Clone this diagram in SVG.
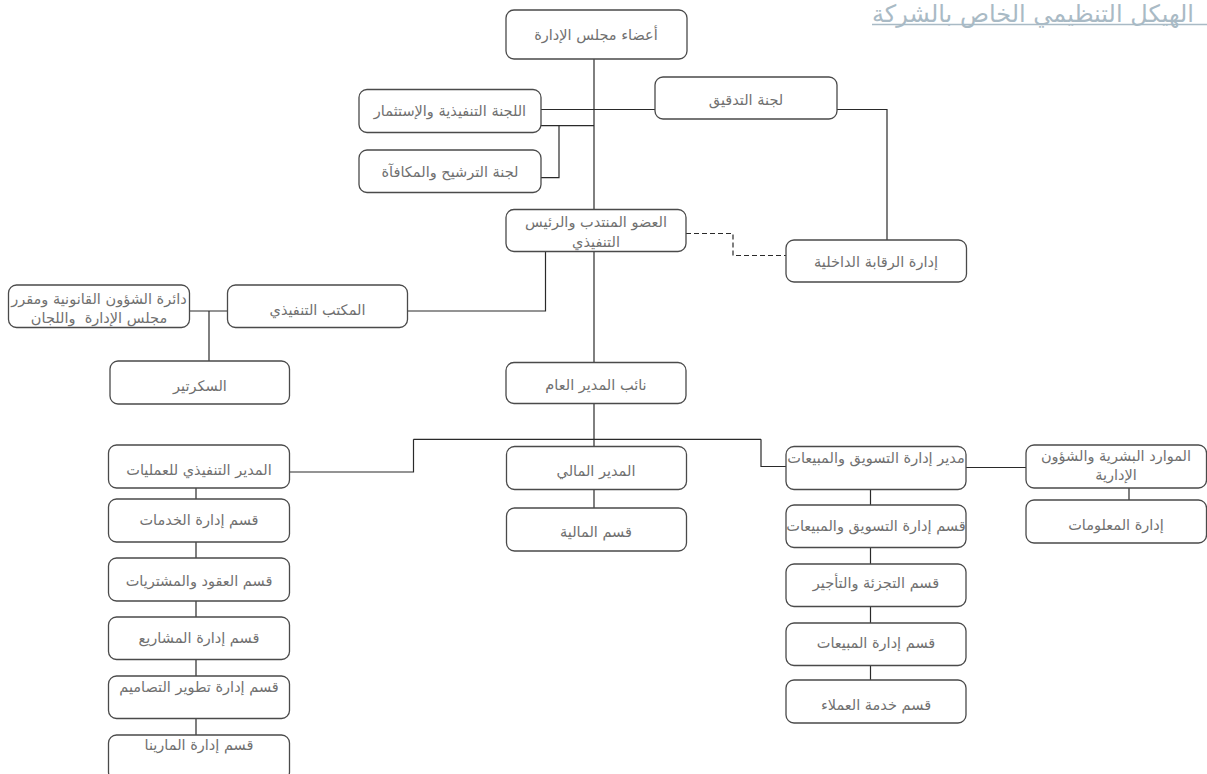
<svg xmlns="http://www.w3.org/2000/svg" width="1207" height="774" viewBox="0 0 1207 774">
<style>
.box{fill:#ffffff;stroke:#4a4a4a;stroke-width:1.3}
.t{font-family:"DejaVu Sans",sans-serif;font-size:14.5px;fill:#707070;text-anchor:middle;direction:rtl;dominant-baseline:central}
.c{fill:none;stroke:#2a2a2a;stroke-width:1.2}
.d{fill:none;stroke:#2a2a2a;stroke-width:1.2;stroke-dasharray:5,3}
.title{font-family:"DejaVu Sans",sans-serif;font-size:24px;fill:#a9bac5;direction:rtl;text-anchor:end}
</style>
<rect width="1207" height="774" fill="#ffffff"/>
<g id="title">
<text class="title" x="872" y="22">الهيكل التنظيمي الخاص بالشركة</text>
<line x1="872" y1="24.5" x2="1207" y2="24.5" stroke="#a9bac5" stroke-width="1.3"/>
</g>
<g id="connectors">
<path class="c" d="M594 59 V209.5"/>
<path class="c" d="M541 109.5 H655"/>
<path class="c" d="M541 125.7 H594"/>
<path class="c" d="M559 125.7 V177.7 H541"/>
<path class="c" d="M837 109.5 H887 V240"/>
<path class="d" d="M686 233.5 H733 V255.5 H786"/>
<path class="c" d="M545.5 251.5 V311 H407.5"/>
<path class="c" d="M227.5 311 H189.5"/>
<path class="c" d="M209 311 V361"/>
<path class="c" d="M594 251.5 V362.5"/>
<path class="c" d="M594 403.5 V446.5"/>
<path class="c" d="M413.5 439.3 H761"/>
<path class="c" d="M413.5 439.3 V472 H289.5"/>
<path class="c" d="M761 439.3 V466.5 H786"/>
<path class="c" d="M966 467.5 H1026"/>
<path class="c" d="M1129 488 V500"/>
<path class="c" d="M196 488 V499 M196 542 V558 M196 601 V617 M196 659.5 V676 M196 718.5 V735"/>
<path class="c" d="M594 489.5 V508"/>
<path class="c" d="M870.5 489.5 V505 M870.5 547.5 V564 M870.5 606.5 V623 M870.5 665.5 V680"/>
</g>
<g id="board"><rect class="box" x="506" y="10" width="181" height="49" rx="8"/><text class="t" x="596" y="35">أعضاء مجلس الإدارة</text></g>
<g id="audit-committee"><rect class="box" x="655" y="77" width="182" height="42" rx="8"/><text class="t" x="746" y="100">لجنة التدقيق</text></g>
<g id="exec-committee"><rect class="box" x="359" y="89.5" width="182" height="43" rx="8"/><text class="t" x="450" y="111">اللجنة التنفيذية والإستثمار</text></g>
<g id="nomination"><rect class="box" x="359" y="150" width="182" height="42.5" rx="8"/><text class="t" x="450" y="171.5">لجنة الترشيح والمكافآة</text></g>
<g id="ceo"><rect class="box" x="506" y="209.5" width="180" height="42" rx="8"/><text class="t" x="596" y="222">العضو المنتدب والرئيس</text><text class="t" x="596" y="241.5">التنفيذي</text></g>
<g id="internal-audit"><rect class="box" x="786" y="240" width="180.5" height="42" rx="8"/><text class="t" x="876" y="262">إدارة الرقابة الداخلية</text></g>
<g id="exec-office"><rect class="box" x="227.5" y="285" width="180" height="42.5" rx="8"/><text class="t" x="317.5" y="310">المكتب التنفيذي</text></g>
<g id="legal"><rect class="box" x="8.5" y="285" width="181" height="42.5" rx="8"/><text class="t" x="99" y="299">دائرة الشؤون القانونية ومقرر</text><text class="t" x="99" y="318" xml:space="preserve">مجلس الإدارة  واللجان</text></g>
<g id="secretary"><rect class="box" x="110" y="361" width="179.5" height="43" rx="8"/><text class="t" x="200" y="386">السكرتير</text></g>
<g id="deputy-gm"><rect class="box" x="506" y="362.5" width="180" height="41" rx="8"/><text class="t" x="596" y="385">نائب المدير العام</text></g>
<g id="coo"><rect class="box" x="108.5" y="445" width="181" height="43" rx="8"/><text class="t" x="199" y="470">المدير التنفيذي للعمليات</text></g>
<g id="services"><rect class="box" x="108.5" y="499" width="181" height="43" rx="8"/><text class="t" x="199" y="520">قسم إدارة الخدمات</text></g>
<g id="contracts"><rect class="box" x="108.5" y="558" width="181" height="43" rx="8"/><text class="t" x="199" y="581">قسم العقود والمشتريات</text></g>
<g id="projects"><rect class="box" x="108.5" y="617" width="181" height="42.5" rx="8"/><text class="t" x="199" y="638">قسم إدارة المشاريع</text></g>
<g id="design"><rect class="box" x="108.5" y="676" width="181" height="42.5" rx="8"/><text class="t" x="199" y="687">قسم إدارة تطوير التصاميم</text></g>
<g id="marina"><rect class="box" x="108.5" y="735" width="181" height="45" rx="8"/><text class="t" x="199" y="745">قسم إدارة المارينا</text></g>
<g id="cfo"><rect class="box" x="506.5" y="446.5" width="180" height="43" rx="8"/><text class="t" x="596" y="471">المدير المالي</text></g>
<g id="finance"><rect class="box" x="506.5" y="508" width="180" height="43" rx="8"/><text class="t" x="596" y="532">قسم المالية</text></g>
<g id="marketing-manager"><rect class="box" x="786" y="446.5" width="180" height="43" rx="8"/><text class="t" x="876" y="458">مدير إدارة التسويق والمبيعات</text></g>
<g id="marketing-dept"><rect class="box" x="786" y="505" width="180" height="42.5" rx="8"/><text class="t" x="876" y="526">قسم إدارة التسويق والمبيعات</text></g>
<g id="leasing"><rect class="box" x="786" y="564" width="180" height="42.5" rx="8"/><text class="t" x="876" y="583">قسم التجزئة والتأجير</text></g>
<g id="sales"><rect class="box" x="786" y="623" width="180" height="42.5" rx="8"/><text class="t" x="876" y="643">قسم إدارة المبيعات</text></g>
<g id="customer-service"><rect class="box" x="786" y="680" width="180" height="43" rx="8"/><text class="t" x="876" y="705">قسم خدمة العملاء</text></g>
<g id="hr"><rect class="box" x="1026" y="445" width="180.5" height="43" rx="8"/><text class="t" x="1116" y="456">الموارد البشرية والشؤون</text><text class="t" x="1116" y="475">الإدارية</text></g>
<g id="it"><rect class="box" x="1026" y="500" width="180.5" height="43" rx="8"/><text class="t" x="1116" y="525">إدارة المعلومات</text></g>
</svg>
